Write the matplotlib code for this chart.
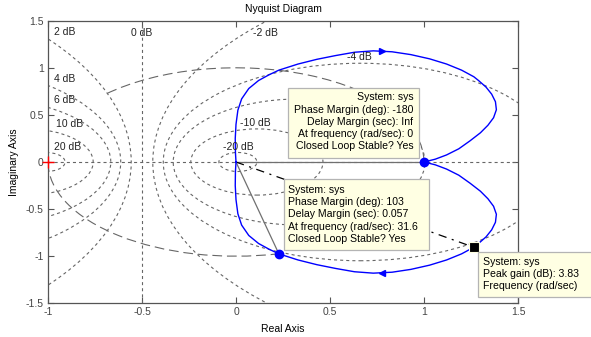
import matplotlib
matplotlib.use('Agg')
import matplotlib.pyplot as plt
from matplotlib.patches import Circle, Arc, Rectangle

plt.rcParams['font.family'] = ['Liberation Sans', 'DejaVu Sans']
plt.rcParams['lines.scale_dashes'] = False

# M-circle levels (dB) drawn as grid
m_db = [-20, -10, -6, -4, -2, 2, 4, 6, 10, 20]

# grid labels and where they sit
m_labels = ['2 dB', '0 dB', '-2 dB', '4 dB', '6 dB', '10 dB', '20 dB', '-4 dB', '-10 dB', '-20 dB']
m_label_x = [-0.97, -0.56, 0.09, -0.97, -0.97, -0.96, -0.97, 0.59, 0.02, -0.07]
m_label_y = [1.38, 1.37, 1.37, 0.88, 0.66, 0.40, 0.16, 1.11, 0.41, 0.16]

# positive frequency branch, omega = 0 -> inf
re_pos = [1.000, 1.060, 1.120, 1.185, 1.245, 1.300, 1.340, 1.370, 1.385, 1.380,
          1.360, 1.330, 1.290, 1.265, 1.200, 1.120, 1.030, 0.930, 0.830, 0.730,
          0.630, 0.530, 0.430, 0.330, 0.228, 0.175, 0.120, 0.068, 0.030, 0.010,
          0.000, -0.004, -0.003, 0.000]
im_pos = [0.000, -0.030, -0.075, -0.140, -0.225, -0.310, -0.390, -0.470, -0.555, -0.640,
          -0.720, -0.795, -0.865, -0.905, -0.975, -1.040, -1.095, -1.140, -1.170, -1.180,
          -1.165, -1.130, -1.090, -1.040, -0.975, -0.925, -0.865, -0.780, -0.670, -0.550,
          -0.400, -0.250, -0.100, 0.000]

# stability margin points
pm_re = [1.000, 0.228]
pm_im = [0.000, -0.975]
pm_angle = [0, 283]          # phase of the crossing points (deg)
peak_re = 1.265
peak_im = -0.905

# direction arrows on the curve
arrow_re = 0.775
arrow_im = 1.183

tip1 = 'System: sys\nPhase Margin (deg): -180\nDelay Margin (sec): Inf\nAt frequency (rad/sec): 0\nClosed Loop Stable? Yes'
tip2 = 'System: sys\nPhase Margin (deg): 103\nDelay Margin (sec): 0.057\nAt frequency (rad/sec): 31.6\nClosed Loop Stable? Yes'
tip3 = 'System: sys\nPeak gain (dB): 3.83\nFrequency (rad/sec)'

grid_c = '#666666'
ax_c = '#555555'
tip_bg = '#ffffe3'
tip_ec = '#b4b4b4'

fig = plt.figure(figsize=(5.91, 3.37), dpi=100)
ax = fig.add_axes([48 / 591, 1 - 303.3 / 337, 470 / 591, 282.6 / 337])

# M circles
for db in m_db:
    M = 10 ** (db / 20.0)
    c = -M ** 2 / (M ** 2 - 1)
    r = abs(M / (M ** 2 - 1))
    ax.add_patch(Circle((c, 0), r, fill=False, ec=grid_c, lw=0.8, ls=(0, (2.2, 2.2))))
ax.axvline(-0.5, color=grid_c, lw=0.8, ls=(0, (2.2, 2.2)))
ax.axhline(0, color=grid_c, lw=0.8, ls=(0, (2.2, 2.2)))
for s, x, y in zip(m_labels, m_label_x, m_label_y):
    ax.text(x, y, s, fontsize=7.5, color='#222222', ha='left', va='center')

# unit circle arcs for the phase margins
ax.add_patch(Arc((0, 0), 2, 2, theta1=pm_angle[0], theta2=134, ec=grid_c, lw=0.8, ls=(0, (7, 3.5))))
ax.add_patch(Arc((0, 0), 2, 2, theta1=180, theta2=pm_angle[1], ec=grid_c, lw=0.8, ls=(0, (7, 3.5))))
for x, y in zip(pm_re, pm_im):
    ax.plot([0, x], [0, y], color='#707070', lw=0.9)
ax.plot([0, peak_re], [0, peak_im], color='k', lw=0.9, ls=(0, (6, 4, 1.5, 4)))

# nyquist curve, negative frequencies are the mirror image
re = re_pos[::-1] + re_pos
im = [-v for v in im_pos[::-1]] + im_pos
ax.plot(re, im, color='#0000ff', lw=1.0)
ax.plot(arrow_re, arrow_im, marker='>', color='#0000ff', ms=4.5)
ax.plot(arrow_re, -arrow_im, marker='<', color='#0000ff', ms=4.5)

ax.plot(-1, 0, '+', color='red', ms=8, mew=1.0, clip_on=False, zorder=6)
ax.plot(pm_re, pm_im, 'o', color='#0000ff', ms=6, zorder=6)
ax.plot(peak_re, peak_im, 's', mfc='k', mec='#ffffe0', mew=0.8, ms=7.5, zorder=6)

# data tips
boxes = [(0.279, 0.042, 0.697, 0.744), (0.253, -0.934, 0.771, 0.754), (1.285, -1.43, 0.70, 0.475)]
for (x0, y0, w, h) in boxes:
    ax.add_patch(Rectangle((x0, y0), w, h, fc=tip_bg, ec=tip_ec, lw=0.9, zorder=9, clip_on=False))
ax.text(0.944, 0.74, tip1, fontsize=7.6, ha='right', va='top', linespacing=1.28, zorder=10)
ax.text(0.279, -0.242, tip2, fontsize=7.6, ha='left', va='top', linespacing=1.28, zorder=10)
ax.text(1.316, -1.008, tip3, fontsize=7.6, ha='left', va='top', linespacing=1.28, zorder=10,
        clip_on=False)

ax.set_xlim(-1, 1.5)
ax.set_ylim(-1.5, 1.5)
ax.set_xticks([-1, -0.5, 0, 0.5, 1, 1.5])
ax.set_xticklabels(['-1', '-0.5', '0', '0.5', '1', '1.5'])
ax.set_yticks([-1.5, -1, -0.5, 0, 0.5, 1, 1.5])
ax.set_yticklabels(['-1.5', '-1', '-0.5', '0', '0.5', '1', '1.5'])
ax.tick_params(direction='in', top=True, right=True, length=4, width=0.8,
               color=ax_c, labelcolor='#444444', labelsize=7.5, pad=3)
for sp in ax.spines.values():
    sp.set_color(ax_c)
    sp.set_linewidth(0.9)

ax.set_title('Nyquist Diagram', fontsize=7.5, pad=6)
ax.set_xlabel('Real Axis', fontsize=7.5, labelpad=5)
ax.set_ylabel('Imaginary Axis', fontsize=7.5, labelpad=5)

fig.savefig('out.png', dpi=100)
